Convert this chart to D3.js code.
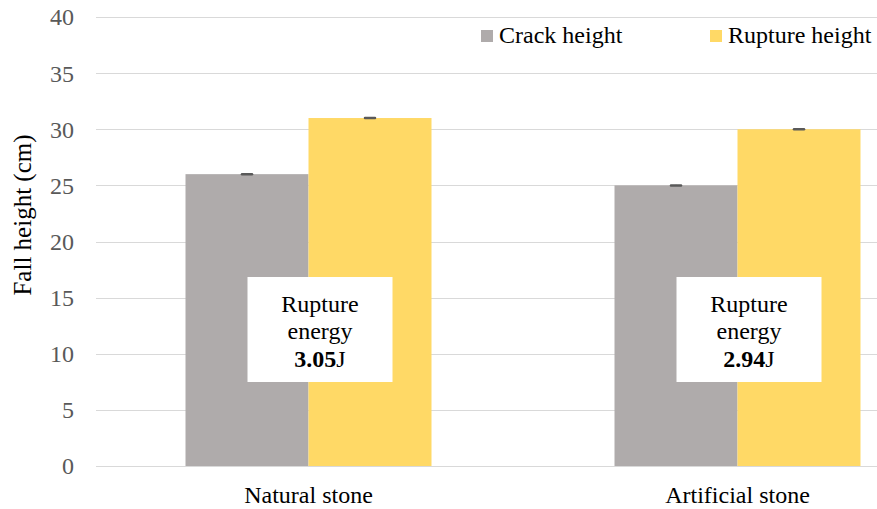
<!DOCTYPE html>
<html><head><meta charset="utf-8">
<script src="https://cdn.jsdelivr.net/npm/d3@7"></script>
</head><body style="margin:0"><svg id="c" width="877" height="509" style="display:block"></svg>
<script>
const categories = ["Natural stone", "Artificial stone"];
const seriesNames = ["Crack height", "Rupture height"];
const crackHeight = [26, 25];
const ruptureHeight = [31, 30];
const crackErr = [0.05, 0.05];
const ruptureErr = [0.05, 0.05];
const ruptureEnergy = ["3.05J", "2.94J"];
const yTicks = [0, 5, 10, 15, 20, 25, 30, 35, 40];
const colors = ["#AFABAB", "#FFD966"];

const svg = d3.select("#c");
const y = d3.scaleLinear().domain([0, 40]).range([466, 17]);
const x0 = d3.scaleBand().domain(categories).range([94, 952]);
const x1 = d3.scaleBand().domain(seriesNames).range([0, 246]);

function serif(sel, size) {
  return sel.style("font-family", '"Liberation Serif"').style("font-size", size + "px");
}

// gridlines
svg.append("g").selectAll("line").data(yTicks).join("line")
  .attr("x1", 96).attr("x2", 877)
  .attr("y1", d => Math.round(y(d)) + 0.5).attr("y2", d => Math.round(y(d)) + 0.5)
  .attr("stroke", "#D9D9D9").attr("stroke-width", 1);

// y axis labels
const yAxis = d3.axisLeft(y).tickValues(yTicks).tickSize(0).tickPadding(0);
const ga = svg.append("g").attr("transform", "translate(74,0)").call(yAxis);
ga.select(".domain").remove();
ga.attr("font-family", null).attr("font-size", null);
serif(ga.selectAll("text"), 24).attr("fill", "#595959").attr("dy", "0.33em");

// bars
const data = categories.map((c, i) => [
  {cat: c, s: seriesNames[0], v: crackHeight[i], e: crackErr[i], col: colors[0]},
  {cat: c, s: seriesNames[1], v: ruptureHeight[i], e: ruptureErr[i], col: colors[1]}
]).flat();
const bx = d => x0(d.cat) + x0.bandwidth() / 2 - 123 + x1(d.s);
svg.append("g").selectAll("rect").data(data).join("rect")
  .attr("x", bx).attr("width", x1.bandwidth())
  .attr("y", d => y(d.v)).attr("height", d => y(0) - y(d.v))
  .attr("fill", d => d.col);

// error bars
const eb = svg.append("g").selectAll("g").data(data).join("g");
eb.append("line")
  .attr("x1", d => bx(d) + x1.bandwidth() / 2).attr("x2", d => bx(d) + x1.bandwidth() / 2)
  .attr("y1", d => y(d.v + d.e)).attr("y2", d => y(d.v - d.e))
  .attr("stroke", "#595959").attr("stroke-width", 1);
eb.append("line")
  .attr("x1", d => bx(d) + x1.bandwidth() / 2 - 5).attr("x2", d => bx(d) + x1.bandwidth() / 2 + 5)
  .attr("y1", d => y(d.v)).attr("y2", d => y(d.v))
  .attr("stroke", "#595959").attr("stroke-width", 2.5).attr("stroke-linecap", "round");

// x axis line
svg.append("line").attr("x1", 96).attr("x2", 877).attr("y1", 466.5).attr("y2", 466.5)
  .attr("stroke", "#D9D9D9");

// x labels
serif(svg.append("g").selectAll("text").data(categories).join("text"), 24)
  .attr("x", d => x0(d) + x0.bandwidth() / 2).attr("y", 503)
  .attr("text-anchor", "middle").attr("fill", "#000")
  .text(d => d);

// y title
serif(svg.append("text"), 25).attr("transform", "translate(31,215) rotate(-90)")
  .attr("text-anchor", "middle").attr("fill", "#000")
  .text("Fall height (cm)");

// energy boxes
const boxes = svg.append("g").selectAll("g").data(categories).join("g")
  .attr("transform", d => `translate(${x0(d) + x0.bandwidth() / 2 - 61},277)`);
boxes.append("rect").attr("width", 145).attr("height", 105).attr("fill", "#fff");
[["Rupture", 35], ["energy", 62]].forEach(([t, yy]) => {
  serif(boxes.append("text"), 24).attr("x", 72.5).attr("y", yy).attr("text-anchor", "middle").text(t);
});
serif(boxes.append("text"), 24).attr("x", 72.5).attr("y", 90).attr("text-anchor", "middle")
  .each(function(d, i) {
    const t = d3.select(this);
    const m = ruptureEnergy[i].match(/^([\d.]+)(.*)$/);
    t.append("tspan").style("font-weight", "bold").text(m[1]);
    t.append("tspan").text(m[2]);
  });

// legend
const lx = [481, 710];
const lg = svg.append("g").selectAll("g").data(seriesNames).join("g")
  .attr("transform", (d, i) => `translate(${lx[i]},0)`);
lg.append("rect").attr("x", 0).attr("y", 30).attr("width", 12).attr("height", 12)
  .attr("fill", (d, i) => colors[i]);
serif(lg.append("text"), 24).attr("x", 18).attr("y", 43)
  .attr("fill", "#000").text(d => d);
</script></body></html>
